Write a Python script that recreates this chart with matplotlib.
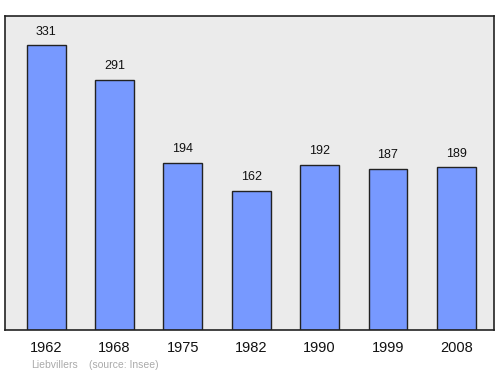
import matplotlib.pyplot as plt

plt.rcParams["font.family"] = ["Liberation Sans", "DejaVu Sans"]

years = ["1962", "1968", "1975", "1982", "1990", "1999", "2008"]
population = [331, 291, 194, 162, 192, 187, 189]

fig = plt.figure(figsize=(5, 3.74), dpi=100)
ax = fig.add_axes([0.01, 0.1176, 0.978, 0.8396])
ax.set_facecolor("#ebebeb")

x = range(len(years))
ax.bar(x, population, width=0.57, color="#7799ff", edgecolor="#222222", linewidth=1.0, zorder=2)
for xi, v in zip(x, population):
    ax.text(xi, v + 9, str(v), ha="center", va="bottom", fontsize=9, color="#111111")

ax.set_xlim(-0.6, 6.55)
ax.set_ylim(0, 365)
ax.set_xticks(list(x))
ax.set_xticklabels(years, fontsize=10.5, color="#111111")
ax.tick_params(axis="x", length=0, pad=8)
ax.set_yticks([])
for s in ax.spines.values():
    s.set_linewidth(1.2)
    s.set_color("#222222")

fig.text(0.062, 0.015, "Liebvillers", fontsize=7.5, color="#aaaaaa")
fig.text(0.178, 0.015, "(source: Insee)", fontsize=7.5, color="#aaaaaa")

fig.savefig("out.png", dpi=100)
